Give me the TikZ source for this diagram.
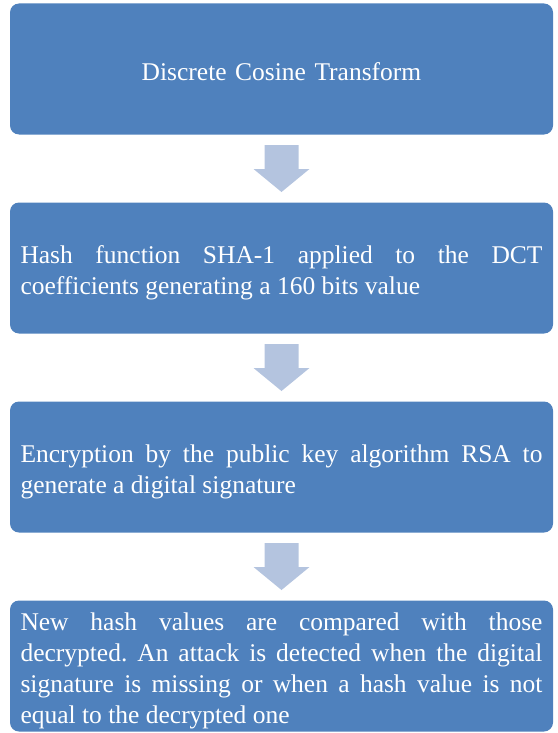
\documentclass[tikz,border=0pt]{standalone}
\usepackage{fontspec}
\setmainfont{Liberation Serif}
\frenchspacing
\definecolor{boxblue}{HTML}{4F81BD}
\definecolor{arrowblue}{HTML}{B4C4DF}
\begin{document}
\begin{tikzpicture}[x=1pt,y=-1pt,
  stepbox/.style={fill=boxblue, rounded corners=9pt, minimum width=543pt,
    minimum height=131pt, inner sep=0pt},
  steptext/.style={text=white, text width=522pt, inner sep=0pt,
    font=\fontsize{25.5}{31}\selectfont, align=justify},
  downarrow/.style={fill=arrowblue}]
\useasboundingbox (0,0) rectangle (557,733);
\node[stepbox] (b1) at (281.5,69) {};
\node[stepbox] (b2) at (281.5,268) {};
\node[stepbox] (b3) at (281.5,467) {};
\node[stepbox] (b4) at (281.5,666) {};
\node[steptext, align=center] (t1) at ([yshift=-3pt]b1.center) {Discrete Cosine Transform};
\node[steptext] (t2) at ([yshift=-5pt]b2.center) {Hash function SHA-1 applied to the DCT\linebreak coefficients generating a 160 bits value};
\node[steptext] (t3) at ([yshift=-5pt]b3.center) {Encryption by the public key algorithm RSA to\linebreak generate a digital signature};
\node[steptext] (t4) at ([yshift=-5pt]b4.center) {New hash values are compared with those\linebreak decrypted. An attack is detected when the digital\linebreak signature is missing or when a hash value is not\linebreak equal to the decrypted one};
\foreach \a/\b in {b1/b2,b2/b3,b3/b4}{
  \path (\a.south) -- (\b.north) coordinate[pos=0.5] (m);
  \fill[downarrow, shift={(m)}] (-17,-23.5) -- (17,-23.5) -- (17,0.5) -- (28,0.5)
    -- (0,23.5) -- (-28,0.5) -- (-17,0.5) -- cycle;
}
\end{tikzpicture}
\end{document}
